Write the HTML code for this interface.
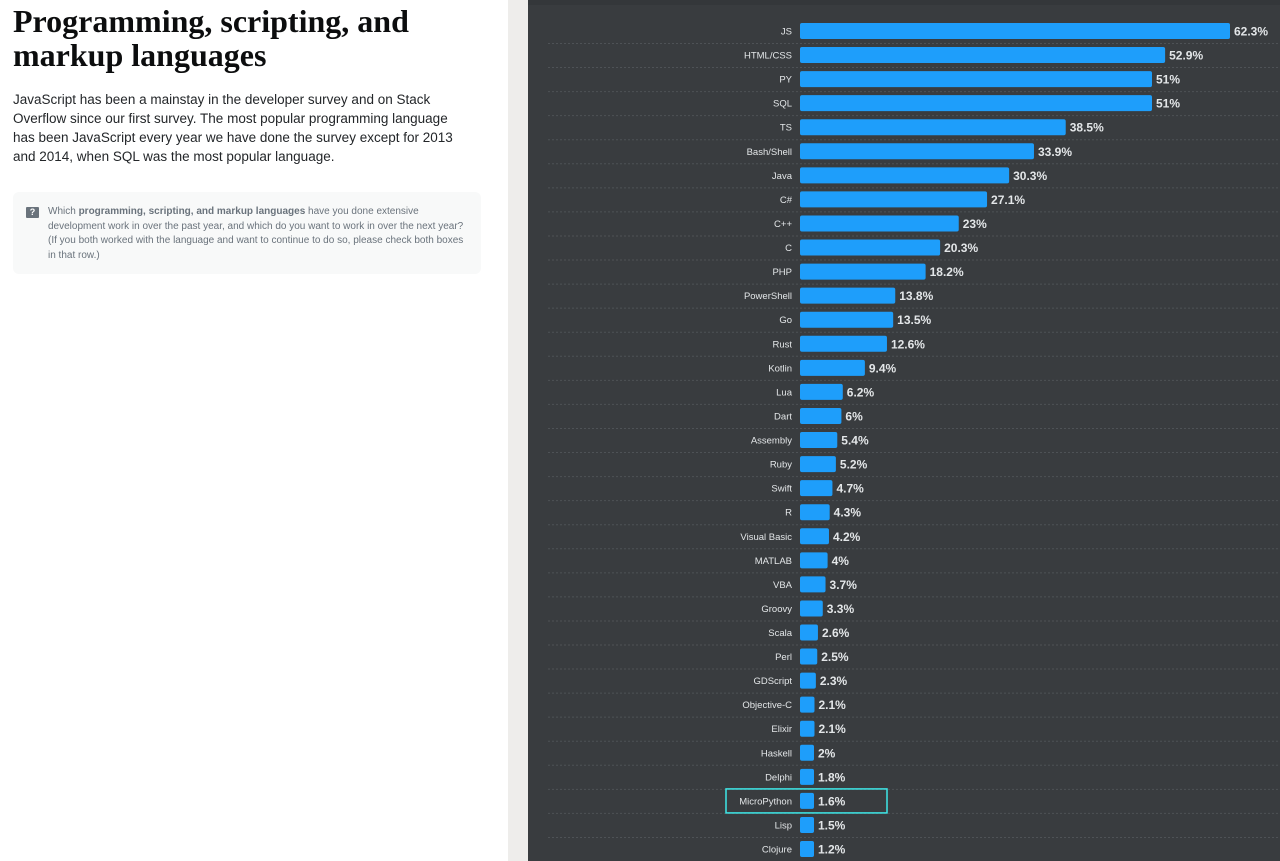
<!DOCTYPE html>
<html><head><meta charset="utf-8"><style>
body{margin:0;width:1280px;height:861px;overflow:hidden;font-family:"Liberation Sans",sans-serif;background:#fff;position:relative}
#left{position:absolute;left:0;top:0;width:508px;height:861px;background:#fff}
h1{position:absolute;left:13px;top:4px;margin:0;font-family:"Liberation Serif",serif;font-weight:bold;font-size:32px;line-height:34px;color:#0c0d0e;width:490px}
#intro{position:absolute;left:13px;top:90px;width:458px;font-size:13.5px;line-height:19px;color:#232629;margin:0}
#q{position:absolute;left:13px;top:192px;width:468px;height:82px;background:#f8f9f9;border-radius:6px}
#q p{position:absolute;left:35px;top:13px;width:425px;margin:0;font-size:10px;line-height:14.5px;color:#6a737c}
#q .ic{position:absolute;left:13px;top:15px;width:13px;height:11px;background:#6a737c;color:#fff;font-size:9px;font-weight:bold;text-align:center;line-height:11px;border-radius:1px}
#strip{position:absolute;left:508px;top:0;width:20px;height:861px;background:#eeedeb}
#chart{position:absolute;left:528px;top:0;width:752px;height:861px;background:#393c3f}
</style></head><body>
<div id="left">
<h1>Programming, scripting, and markup languages</h1>
<p id="intro">JavaScript has been a mainstay in the developer survey and on Stack Overflow since our first survey. The most popular programming language has been JavaScript every year we have done the survey except for 2013 and 2014, when SQL was the most popular language.</p>
<div id="q"><div class="ic">?</div><p>Which <b>programming, scripting, and markup languages</b> have you done extensive development work in over the past year, and which do you want to work in over the next year? (If you both worked with the language and want to continue to do so, please check both boxes in that row.)</p></div>
</div>
<div id="strip"></div>
<svg id="chart" width="752" height="861"></svg>
<script>
const categories=["JS","HTML/CSS","PY","SQL","TS","Bash/Shell","Java","C#","C++","C","PHP","PowerShell","Go","Rust","Kotlin","Lua","Dart","Assembly","Ruby","Swift","R","Visual Basic","MATLAB","VBA","Groovy","Scala","Perl","GDScript","Objective-C","Elixir","Haskell","Delphi","MicroPython","Lisp","Clojure"];
const values=[62.3,52.9,51,51,38.5,33.9,30.3,27.1,23,20.3,18.2,13.8,13.5,12.6,9.4,6.2,6,5.4,5.2,4.7,4.3,4.2,4,3.7,3.3,2.6,2.5,2.3,2.1,2.1,2,1.8,1.6,1.5,1.2];
const valueLabels=["62.3%","52.9%","51%","51%","38.5%","33.9%","30.3%","27.1%","23%","20.3%","18.2%","13.8%","13.5%","12.6%","9.4%","6.2%","6%","5.4%","5.2%","4.7%","4.3%","4.2%","4%","3.7%","3.3%","2.6%","2.5%","2.3%","2.1%","2.1%","2%","1.8%","1.6%","1.5%","1.2%"];
const svg=document.getElementById('chart');const NS='http://www.w3.org/2000/svg';
const x0=272,pxPer=430/62.3;
const xScale=v=>Math.max(14,v*pxPer);
const yScale=i=>31+i*24.06;
function mk(t,a){const e=document.createElementNS(NS,t);for(const k in a)e.setAttribute(k,a[k]);svg.appendChild(e);return e;}
const topEdge=mk('rect',{x:0,y:0,width:752,height:5,fill:'#34373a'});


categories.forEach((c,i)=>{
 const y=yScale(i);
 const sep=mk('line',{x1:20,x2:752,y1:y+12.5,y2:y+12.5,stroke:'#4e5256','stroke-dasharray':'2,2','stroke-width':1});
 
 
 const lab=mk('text',{x:x0-8,y:y+3.5,'text-anchor':'end','font-size':9.5,fill:'#e3e6e8','font-family':'Liberation Sans, sans-serif'});
 lab.textContent=c;
 
 
 const w=xScale(values[i]);
 const b=mk('rect',{x:x0,y:y-8,width:w,height:16,rx:2,fill:'#1e9efb'});
 
 
 const vl=mk('text',{x:x0+w+4,y:y+4.5,'font-size':12,'font-weight':'bold',fill:'#e3e6e8','font-family':'Liberation Sans, sans-serif'});
 vl.textContent=valueLabels[i];
 
 
 if(c==='MicroPython'){
  const h=mk('rect',{x:198,y:y-12,width:161,height:24,fill:'none',stroke:'#3ee8e8','stroke-width':1.5});
  
  
 }
});
</script>
</body></html>
